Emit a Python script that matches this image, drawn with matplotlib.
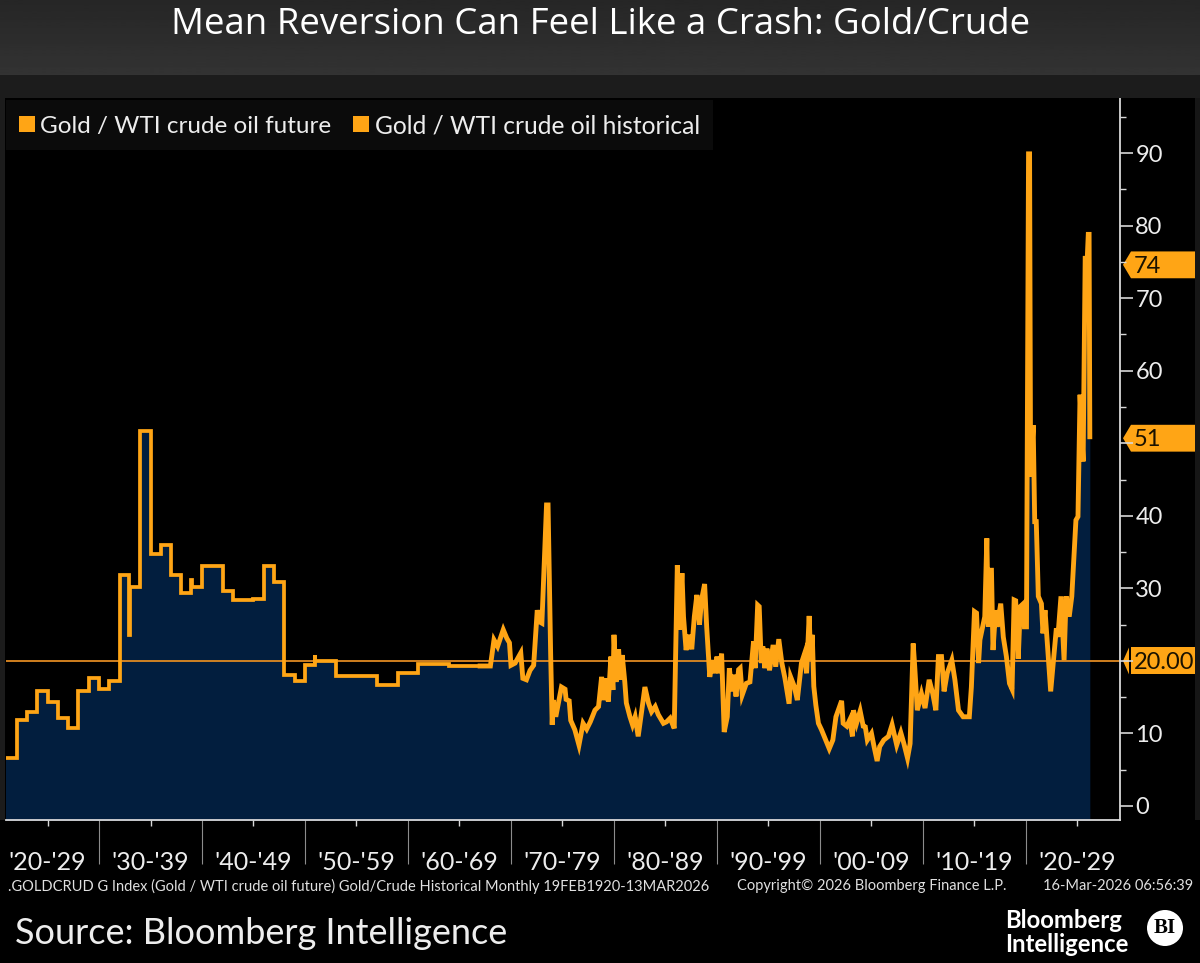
import numpy as np
import matplotlib
matplotlib.use('Agg')
import matplotlib.pyplot as plt
from matplotlib.patches import Rectangle, Polygon, Circle

# DATA
# annual steps, start of the series
step_years = [1920, 1922, 1923, 1924, 1925, 1926, 1927, 1928, 1929, 1930, 1931, 1932,
              1932.95, 1933, 1934, 1935, 1936, 1937, 1938, 1938.9, 1939, 1940, 1942,
              1943, 1945, 1946, 1947, 1948, 1949, 1950, 1950.95, 1951, 1953, 1957,
              1959, 1961, 1964, 1967]
step_values = [6.6, 11.9, 13.0, 15.8, 14.4, 12.1, 10.7, 15.8, 17.6, 16.1, 17.2, 31.8,
               23.6, 30.2, 51.7, 34.7, 36.0, 31.8, 29.4, 31.2, 30.2, 33.1, 29.6,
               28.4, 28.6, 33.1, 30.9, 18.0, 17.2, 19.4, 20.8, 20.0, 17.9, 16.7,
               18.4, 19.6, 19.3, 19.3]

# free floating part
years = [1968, 1968.35, 1968.7, 1969.25, 1969.6, 1969.85, 1970, 1970.4, 1970.95, 1971.15,
         1971.5, 1971.85, 1972.2, 1972.55, 1972.75, 1973, 1973.45, 1973.6, 1973.85, 1974,
         1974.1, 1974.35, 1974.6, 1974.9, 1975.25, 1975.35, 1975.65, 1975.8, 1976.2, 1976.6,
         1977, 1977.35, 1977.7, 1978.15, 1978.5, 1978.8, 1979, 1979.3, 1979.45, 1979.7,
         1979.9, 1980, 1980.2, 1980.45, 1980.6, 1980.8, 1981.05, 1981.2, 1981.55, 1981.8,
         1982.05, 1982.35, 1982.7, 1983, 1983.35, 1983.65, 1984, 1984.3, 1984.8, 1985.1,
         1985.45, 1985.85, 1986.15, 1986.35, 1986.6, 1986.75, 1987, 1987.3, 1987.55, 1987.8,
         1988.05, 1988.3, 1988.5, 1988.8, 1989, 1989.3, 1989.55, 1989.8, 1990, 1990.2,
         1990.45, 1990.7, 1991, 1991.2, 1991.45, 1991.6, 1991.85, 1992.1, 1992.25, 1992.45,
         1992.85, 1993.2, 1993.55, 1993.7, 1993.95, 1994.1, 1994.3, 1994.45, 1994.65, 1994.85,
         1995.1, 1995.45, 1995.7, 1996, 1996.3, 1996.6, 1997, 1997.15, 1997.5, 1997.8,
         1998.2, 1998.5, 1998.7, 1998.95, 1999.1, 1999.25, 1999.4, 1999.6, 1999.85, 2000.15,
         2000.55, 2000.9, 2001.25, 2001.55, 2002.1, 2002.25, 2002.6, 2002.9, 2003.15, 2003.25,
         2003.55, 2003.9, 2004.2, 2004.4, 2004.6, 2005, 2005.25, 2005.55, 2005.8, 2006.2,
         2006.65, 2007, 2007.45, 2007.85, 2008.15, 2008.5, 2008.75, 2009.05, 2009.2, 2009.45,
         2009.85, 2010.2, 2010.6, 2010.95, 2011.25, 2011.5, 2011.8, 2012.05, 2012.35, 2012.8,
         2013.1, 2013.45, 2013.9, 2014.5, 2014.7, 2015, 2015.2, 2015.4, 2015.53, 2016,
         2016.2, 2016.35, 2016.5, 2016.65, 2016.8, 2017.05, 2017.2, 2017.55, 2017.8, 2018.1,
         2018.4, 2018.65, 2018.85, 2019, 2019.25, 2019.45, 2019.75, 2019.85, 2020.05, 2020.25,
         2020.35, 2020.45, 2020.7, 2020.85, 2021, 2021.2, 2021.5, 2021.65, 2021.85, 2022.15,
         2022.4, 2022.7, 2022.95, 2023.1, 2023.4, 2023.7, 2023.9, 2024.2, 2024.45, 2024.75,
         2024.85, 2025.05, 2025.25, 2025.55, 2025.65, 2025.75, 2025.95, 2026.05, 2026.13, 2026.2]
values = [19.3, 22.9, 22.0, 24.3, 23.1, 22.5, 19.4, 19.7, 21.1, 17.6,
          17.4, 18.7, 19.4, 27.0, 25.4, 25.2, 41.5, 41.5, 21.0, 11.2,
          14.6, 12.3, 14.2, 16.4, 16.1, 14.7, 14.5, 11.8, 10.5, 8.4,
          11.4, 10.6, 11.6, 13.2, 13.7, 17.8, 14.6, 17.6, 14.4, 20.6,
          16.0, 23.6, 17.1, 21.6, 17.4, 20.8, 17.1, 14.2, 12.3, 11.2,
          12.3, 9.6, 13.2, 16.4, 14.2, 13.0, 13.7, 12.6, 11.4, 11.6,
          12.1, 10.7, 33.2, 24.3, 32.1, 26.1, 21.5, 23.6, 21.6, 26.1,
          29.1, 25.0, 28.4, 30.6, 24.7, 17.8, 20.1, 18.3, 20.6, 18.3,
          21.0, 10.2, 12.3, 19.0, 15.8, 18.1, 15.1, 18.8, 19.0, 15.3,
          16.9, 17.1, 22.7, 19.0, 27.7, 27.5, 19.7, 22.0, 19.0, 21.7,
          18.7, 22.2, 19.2, 23.0, 19.7, 17.6, 14.1, 17.8, 16.5, 14.6,
          19.7, 21.0, 18.3, 26.2, 20.1, 23.6, 16.5, 13.9, 11.4, 10.5,
          9.1, 7.9, 9.1, 12.3, 14.5, 11.4, 11.0, 11.9, 9.6, 13.2,
          11.4, 13.1, 11.0, 10.9, 9.1, 10.0, 8.2, 6.2, 8.2, 9.1,
          9.6, 11.2, 8.4, 10.1, 8.6, 6.6, 8.6, 22.4, 19.2, 13.2,
          15.5, 13.5, 17.4, 15.5, 13.2, 20.6, 20.6, 15.8, 18.3, 20.1,
          17.4, 13.2, 12.3, 12.3, 16.4, 26.8, 26.6, 19.7, 22.9, 26.1,
          36.9, 24.7, 32.5, 32.5, 21.5, 27.0, 24.7, 27.9, 23.3, 20.6,
          16.9, 16.1, 28.4, 28.3, 20.3, 27.5, 27.9, 24.7, 24.7, 89.9,
          89.9, 45.4, 52.5, 39.2, 39.2, 28.9, 27.9, 23.8, 27.0, 21.0,
          15.8, 20.6, 24.5, 23.3, 28.9, 20.1, 28.9, 26.1, 28.9, 36.7,
          39.4, 39.9, 56.7, 47.5, 62.0, 75.5, 75.5, 78.8, 78.8, 50.9]

y_ticks = [0, 10, 20, 30, 40, 50, 60, 70, 80, 90]
y_labels = ['0', '10', '', '30', '40', '', '60', '70', '80', '90']
y_minor = [5, 15, 25, 35, 45, 55, 65, 75, 85, 95]
decades = ["'20-'29", "'30-'39", "'40-'49", "'50-'59", "'60-'69", "'70-'79",
           "'80-'89", "'90-'99", "'00-'09", "'10-'19", "'20-'29"]
decade_mids = [1925, 1935, 1945, 1955, 1965, 1975, 1985, 1995, 2005, 2015, 2025]
decade_ticks = [1930, 1940, 1950, 1960, 1970, 1980, 1990, 2000, 2010, 2020]
level = 20.0

ORANGE = '#FFA515'
NAVY = '#021E3E'
FONT = 'Lato'

# BUILD SERIES
sx = np.repeat(step_years, 2)[1:]
sy = np.repeat(step_values, 2)[:-1]
all_x = np.concatenate([sx, years])
all_y = np.concatenate([sy, values])

fig = plt.figure(figsize=(12, 9.63), dpi=100, facecolor='black')
ax = fig.add_axes([6 / 1200, (963 - 820) / 963, 1114 / 1200, 722 / 963], facecolor='black', zorder=1)

# page layer in picture pixels, for the header and footer
page = fig.add_axes([0, 0, 1, 1], zorder=2)
page.set_xlim(0, 1200)
page.set_ylim(963, 0)
page.axis('off')

# CHART
ax.fill_between(all_x, all_y, -5, color=NAVY, lw=0, zorder=1)
ax.axhline(level, color='#E08A22', lw=1.3, zorder=2)
ax.plot(sx, sy, color=ORANGE, lw=2.7, solid_joinstyle='miter', zorder=3)
# monthly part reads heavier in the reference
ax.plot(np.concatenate([sx[-1:], years]), np.concatenate([sy[-1:], values]), color=ORANGE, lw=3.5,
        solid_joinstyle='miter', zorder=3)
ax.set_xlim(1920.97, 2029.13)
ax.set_ylim(-1.93, 97.6)

ax.yaxis.tick_right()
ax.set_yticks(y_ticks)
ax.set_yticklabels(y_labels, fontsize=17, color='#EDEDED', family=FONT)
ax.set_yticks(y_minor, minor=True)
ax.tick_params(axis='y', which='major', length=9, width=1.2, color='#D8D8D8', pad=2)
ax.tick_params(axis='y', which='minor', length=4, width=1, color='#D8D8D8')

ax.set_xticks(decade_ticks)
ax.set_xticklabels([''] * len(decade_ticks))
ax.set_xticks(decade_mids, minor=True)
ax.set_xticklabels(decades, minor=True, fontsize=18, color='#EDEDED', family=FONT)
ax.tick_params(axis='x', which='major', length=32, width=0.8, color='#8C8C8C')
ax.tick_params(axis='x', which='minor', length=4, width=1, color='#D8D8D8', pad=18)

for side in ['top', 'left']:
    ax.spines[side].set_visible(False)
for side in ['right', 'bottom']:
    ax.spines[side].set_color('#D8D8D8')
    ax.spines[side].set_linewidth(1.3)

# VALUE TAGS
tr = ax.get_yaxis_transform()
def fx(px):
    return (px - 6) / 1114

for val, lab in [(74.6, '74'), (50.7, '51')]:
    ax.add_patch(Polygon([(fx(1123), val), (fx(1131), val + 1.85), (fx(1195), val + 1.85),
                          (fx(1195), val - 1.85), (fx(1131), val - 1.85)],
                         transform=tr, color=ORANGE, lw=0, clip_on=False))
    ax.text(fx(1134), val - 0.2, lab, transform=tr, fontsize=17, color='#1A1200', va='center', family=FONT, clip_on=False)
ax.add_patch(Polygon([(fx(1123), level), (fx(1129), level + 1.85), (fx(1129), level - 1.85)],
                     transform=tr, color=ORANGE, lw=0, clip_on=False))
ax.add_patch(Rectangle((fx(1131), level - 1.85), fx(1195) - fx(1131), 3.7,
                       transform=tr, color=ORANGE, lw=0, clip_on=False))
ax.text(fx(1134), level - 0.2, '20.00', transform=tr, fontsize=17, color='#1A1200', va='center', family=FONT, clip_on=False)

# HEADER
band = np.linspace(0.15, 0.2, 50).reshape(-1, 1)
page.imshow(band, extent=[0, 1200, 75, 0], cmap='gray', vmin=0, vmax=1, aspect='auto', zorder=0)
page.set_xlim(0, 1200)
page.set_ylim(963, 0)
page.add_patch(Rectangle((0, 75), 1200, 23, color='#1C1C1C', lw=0, zorder=0))
page.add_patch(Rectangle((0, 98), 5, 722, color='#1C1C1C', lw=0, zorder=0))
page.add_patch(Rectangle((1195, 98), 5, 722, color='#161616', lw=0, zorder=0))
page.text(601, 25, 'Mean Reversion Can Feel Like a Crash: Gold/Crude', color='white',
          fontsize=26.4, ha='center', va='center', family='Open Sans')

# LEGEND
page.add_patch(Rectangle((6, 100), 707, 50, color='#0B0B0B', lw=0, zorder=1))
page.add_patch(Rectangle((19, 116), 16, 16, color=ORANGE, lw=0, zorder=2))
page.add_patch(Rectangle((353, 116), 16, 16, color=ORANGE, lw=0, zorder=2))
page.text(40, 133, 'Gold / WTI crude oil future', color='#EDEDED', fontsize=17.5, va='baseline', family=FONT, zorder=3)
page.text(375, 133, 'Gold / WTI crude oil historical', color='#EDEDED', fontsize=17.7, va='baseline', family=FONT, zorder=3)

# FOOTER
page.text(8, 886, '.GOLDCRUD G Index (Gold / WTI crude oil future) Gold/Crude Historical Monthly 19FEB1920-13MAR2026',
          color='#E0E0E0', fontsize=10.5, va='center', family=FONT)
page.text(737, 886, 'Copyright© 2026 Bloomberg Finance L.P.', color='#E0E0E0', fontsize=10.5, va='center', family=FONT)
page.text(1193, 886, '16-Mar-2026 06:56:39', color='#E0E0E0', fontsize=10.5, va='center', ha='right', family=FONT)
page.text(15, 933, 'Source: Bloomberg Intelligence', color='#EDEDED', fontsize=26, va='center', family=FONT)
page.text(1005, 920, 'Bloomberg', color='white', fontsize=17.2, va='center', family=FONT, fontweight='bold')
page.text(1005, 945, 'Intelligence', color='white', fontsize=17.2, va='center', family=FONT, fontweight='bold')
page.add_patch(Circle((1165, 928), 18, color='white', lw=0))
page.text(1165, 928, 'BI', color='black', fontsize=15, ha='center', va='center', family='Liberation Serif', fontweight='bold')

fig.savefig('out.png', dpi=100, facecolor='black')
